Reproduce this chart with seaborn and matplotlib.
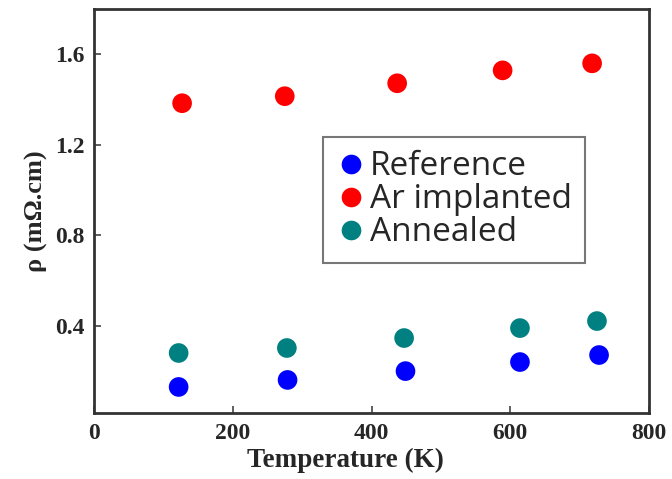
import matplotlib
matplotlib.use("Agg")
import matplotlib.pyplot as plt
import seaborn as sns
import pandas as pd

# Data
ref_T = [122, 279, 449, 614, 728]
ref_rho = [0.131, 0.162, 0.201, 0.241, 0.272]
ar_T = [127, 275, 437, 589, 718]
ar_rho = [1.384, 1.415, 1.472, 1.529, 1.560]
ann_T = [122, 278, 447, 614, 725]
ann_rho = [0.281, 0.303, 0.347, 0.391, 0.422]
labels = ["Reference", "Ar implanted", "Annealed"]
colors = ["#0000FF", "#FF0000", "#008080"]
x_ticks = [0, 200, 400, 600, 800]
y_ticks = [0.4, 0.8, 1.2, 1.6]

df = pd.concat([
    pd.DataFrame({"T": ref_T, "rho": ref_rho, "Sample": labels[0]}),
    pd.DataFrame({"T": ar_T, "rho": ar_rho, "Sample": labels[1]}),
    pd.DataFrame({"T": ann_T, "rho": ann_rho, "Sample": labels[2]}),
], ignore_index=True)

sns.set_style("white")
fig = plt.figure(figsize=(6.72, 4.79), dpi=100)
ax = fig.add_axes([94/672, 1-413/479, (649-94)/672, (413-9)/479])

sns.scatterplot(data=df, x="T", y="rho", hue="Sample", hue_order=labels,
                palette=colors, s=200, edgecolor="none", ax=ax, legend=True)

ax.set_xlim(0, 800)
ax.set_ylim(0.016, 1.8)
ax.set_xticks(x_ticks)
ax.set_yticks(y_ticks)
ax.set_xticklabels([str(v) for v in x_ticks])
ax.set_yticklabels([f"{v:.1f}" for v in y_ticks])

serif = ["Liberation Serif", "DejaVu Serif"]
for lab in ax.get_xticklabels() + ax.get_yticklabels():
    lab.set_fontfamily(serif)
    lab.set_fontweight("bold")
    lab.set_fontsize(17)

ax.tick_params(axis="both", direction="in", length=5, width=1.2,
               color="#444444", bottom=True, left=True, top=False, right=False)
ax.tick_params(axis="x", pad=7)
ax.tick_params(axis="y", pad=7)

ax.set_xlabel("Temperature (K)", fontfamily=serif, fontweight="bold",
              fontsize=19.5)
ax.xaxis.set_label_coords((345-94)/555, -0.087)
ax.set_ylabel("ρ (mΩ.cm)", fontfamily=serif, fontweight="bold",
              fontsize=19, labelpad=5)

for sp in ax.spines.values():
    sp.set_color("#333333")
    sp.set_linewidth(2)

handles, _ = ax.get_legend_handles_labels()
leg = ax.legend(handles=handles, labels=labels, loc="upper left",
                bbox_to_anchor=((323-94)/555, (413-137)/404), borderaxespad=0,
                prop={"family": ["Open Sans", "DejaVu Sans"], "size": 24},
                markerscale=1.0, handletextpad=0.1, labelspacing=0.0,
                handlelength=0.9, borderpad=0.4, frameon=True, fancybox=False)
leg.get_frame().set_edgecolor("#555555")
leg.get_frame().set_linewidth(1.5)

fig.savefig("out.png", dpi=100)
